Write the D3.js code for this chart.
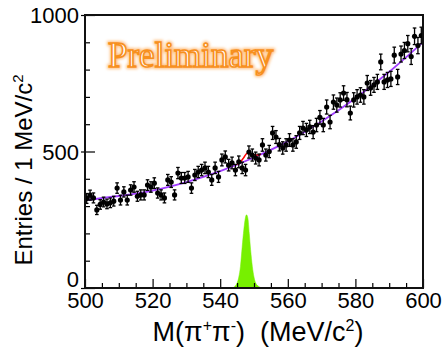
<!DOCTYPE html>
<html><head><meta charset="utf-8">
<script src="https://cdn.jsdelivr.net/npm/d3@7"></script>
<style>html,body{margin:0;padding:0;background:#fff;}svg{display:block;}</style>
</head><body>
<svg id="c" width="446" height="353"></svg>
<script>
// ---- data ----
const binStart = 500;           // bin i covers [500+i, 501+i)
const counts = [328,340,330,286,306,315,308,312,318,366,
                322,352,322,359,370,336,341,341,377,370,
                384,348,341,330,396,388,341,421,403,403,
                407,366,414,425,432,440,425,396,440,407,
                469,480,450,458,432,462,440,432,498,487,
                476,469,524,487,500,568,553,525,513,524,
                542,524,535,568,586,579,590,571,597,625,
                597,663,608,681,670,689,714,690,641,689,
                700,707,700,751,733,744,755,828,755,762,
                766,853,773,857,870,895,848,922,888,925];
const fitX = [500,510,520,530,540,550,560,570,580,590,600];
const fitY = [322,337,357,388,428,478,537,610,695,792,901];
const sigX = [545,546,547,548,549,550,551,552];
const sigY = [453,462,478,494,492,488,487,490];
const mcX = [543.5,544.5,545.5,546.0,546.5,547.0,547.5,547.8,548.2,548.6,549.0,549.5,550.0,550.5,551.5,552.4];
const mcY = [0,8,40,80,150,215,260,268,255,200,140,80,40,18,5,0];
const xMajor = [500,520,540,560,580,600];
const yMajor = [0,500,1000];

// ---- layout ----
const svg = d3.select("#c");
const L=85, R=423, T=15, B=288;
const x = d3.scaleLinear().domain([500,600]).range([L,R]);
const y = d3.scaleLinear().domain([0,1000]).range([B,T]);

const defs = svg.append("defs");
const f = defs.append("filter").attr("id","glow").attr("x","-20%").attr("y","-40%").attr("width","140%").attr("height","180%");
f.append("feGaussianBlur").attr("stdDeviation",1.6);

// MC signal shape (green)
const mc = mcX.map((v,i)=>[v,mcY[i]]);
svg.append("path").datum(mc)
  .attr("d", d3.area().x(d=>x(d[0])).y0(y(0)).y1(d=>y(d[1])).curve(d3.curveMonotoneX))
  .attr("fill","#77f000").attr("stroke","#77f000").attr("stroke-width",0.5);

// fit curves
const line = d3.line().x(d=>x(d[0])).y(d=>y(d[1])).curve(d3.curveMonotoneX);
svg.append("path").datum(fitX.map((v,i)=>[v,fitY[i]]))
  .attr("d",line).attr("fill","none").attr("stroke","#a03cff").attr("stroke-width",1.8);
svg.append("path").datum(sigX.map((v,i)=>[v,sigY[i]]))
  .attr("d",line).attr("fill","none").attr("stroke","#ff0000").attr("stroke-width",1.5);

// data points
const pts = counts.map((c,i)=>({x:binStart+i+0.5, y:c, e:Math.sqrt(c)}));
const g = svg.append("g");
pts.forEach(p=>{
  const cx = x(p.x), y1=y(p.y+p.e), y2=y(p.y-p.e);
  g.append("line").attr("x1",cx).attr("x2",cx).attr("y1",y1).attr("y2",y2).attr("stroke","#000").attr("stroke-width",1.3);
  g.append("line").attr("x1",cx-1.8).attr("x2",cx+1.8).attr("y1",y1).attr("y2",y1).attr("stroke","#000").attr("stroke-width",1.3);
  g.append("line").attr("x1",cx-1.8).attr("x2",cx+1.8).attr("y1",y2).attr("y2",y2).attr("stroke","#000").attr("stroke-width",1.3);
  g.append("circle").attr("cx",cx).attr("cy",y(p.y)).attr("r",2.6).attr("fill","#000");
});

// axes
const font = "Liberation Sans, Arial, Helvetica, sans-serif";
const xMinor = d3.range(500,601,5).filter(v=>v%20!==0);
const yMinor = d3.range(0,1001,100).filter(v=>v%500!==0);
const ax = svg.append("g").attr("transform",`translate(0,${B})`)
  .call(d3.axisBottom(x).tickValues(xMajor).tickSize(-9).tickPadding(4).tickFormat(d3.format("d")));
svg.append("g").attr("transform",`translate(0,${B})`)
  .call(d3.axisBottom(x).tickValues(xMinor).tickSize(-5).tickFormat(""));
const ay = svg.append("g").attr("transform",`translate(${L},0)`)
  .call(d3.axisLeft(y).tickValues(yMajor).tickSize(-10).tickPadding(6).tickFormat(d3.format("d")));
svg.append("g").attr("transform",`translate(${L},0)`)
  .call(d3.axisLeft(y).tickValues(yMinor).tickSize(-5).tickFormat(""));
// small outer marks on y majors
svg.append("g").attr("transform",`translate(${L},0)`)
  .call(d3.axisLeft(y).tickValues(yMajor).tickSize(4).tickFormat(""));
svg.selectAll(".domain").remove();
svg.selectAll(".tick line").attr("stroke","#000").attr("stroke-width",1.2);
svg.selectAll(".tick text").attr("font-family",font).attr("font-size",22).attr("fill","#000");
ay.selectAll(".tick text").attr("dy",d=>d===0?"-0.05em":"0.36em");

// frame
svg.append("rect").attr("x",L).attr("y",T).attr("width",R-L).attr("height",B-T)
  .attr("fill","none").attr("stroke","#111").attr("stroke-width",2);

// titles
const xt = svg.append("text").attr("x",258).attr("y",341).attr("text-anchor","middle")
  .attr("font-family",font).attr("font-size",27).attr("fill","#000").attr("xml:space","preserve");
xt.append("tspan").text("M(π");
xt.append("tspan").text("+").attr("font-size",16).attr("dy",-10);
xt.append("tspan").text("π").attr("dy",10);
xt.append("tspan").text("-").attr("font-size",16).attr("dy",-10);
xt.append("tspan").text(")  (MeV/c").attr("dy",10);
xt.append("tspan").text("2").attr("font-size",16).attr("dy",-10);
xt.append("tspan").text(")").attr("dy",10);

const yt = svg.append("text").attr("transform","translate(32,170) rotate(-90)").attr("text-anchor","middle")
  .attr("font-family",font).attr("font-size",24).attr("fill","#000");
yt.append("tspan").text("Entries / 1 MeV/c");
yt.append("tspan").text("2").attr("font-size",15).attr("dy",-9);

// Preliminary
const pf = "Liberation Serif, Times New Roman, serif";
svg.append("text").attr("x",108).attr("y",67).text("Preliminary")
  .attr("font-family",pf).attr("font-size",35).attr("fill","none")
  .attr("stroke","#ffc080").attr("stroke-width",4).attr("filter","url(#glow)");
svg.append("text").attr("x",108).attr("y",67).text("Preliminary")
  .attr("font-family",pf).attr("font-size",35).attr("fill","#fff")
  .attr("stroke","#f7901e").attr("stroke-width",1.6);
</script>
</body></html>
